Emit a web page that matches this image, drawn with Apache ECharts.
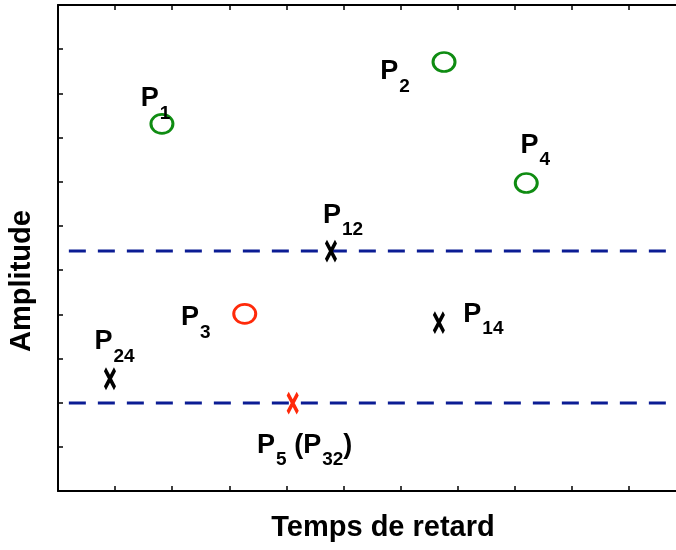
<!DOCTYPE html>
<html><head><meta charset="utf-8">
<script src="https://cdn.jsdelivr.net/npm/echarts@6/dist/echarts.min.js"></script>
<style>html,body{margin:0;padding:0;background:#fff}#c{width:676px;height:550px}</style>
</head><body><div id="c"></div>
<script>
// ---- data ----
const xTitle = 'Temps de retard';
const yTitle = 'Amplitude';
const xRange = [0, 11.4];
const yRange = [0, 11];
const tickStep = 1;
const circleGreenPts = [[1.82, 8.31], [6.76, 9.71], [8.20, 6.97]];
const circleGreenSubs = ['1', '2', '4'];
const circleRedPts = [[3.27, 4.01]];
const circleRedSubs = ['3'];
const crossBlackPts = [[4.78, 5.43], [0.91, 2.54], [6.67, 3.81]];
const crossBlackSubs = ['12', '24', '14'];
const crossRedPts = [[4.11, 1.99]];
const crossRedSubs = [['5', '32']];
const thresholds = [5.43, 1.99];
const thresholdSpan = [0.19, 10.65];

// ---- styles (label offsets in px) ----
const offGreen = [[-6.5, -25], [-49, 10], [9, -38]];
const offRed = [[-49, 4]];
const offBlack = [[12, -36], [4.5, -37], [44.5, -8.5]];
const offRedX = [[12, 42]];

const GREEN = '#0f8c12', RED = '#ff2a0a', NAVY = '#0b1c94';
const FONT = '"Liberation Sans", Arial, Helvetica, sans-serif';
const rich = {
  p: {fontSize: 27, fontWeight: 'bold', fontFamily: FONT, color: '#000', lineHeight: 27, verticalAlign: 'top'},
  s: {fontSize: 19, fontWeight: 'bold', fontFamily: FONT, color: '#000', lineHeight: 19, verticalAlign: 'top', padding: [19, 0, 0, 1]}
};
function simpleLabel(sub) { return '{p|P}{s|' + sub + '}'; }
function items(pts, subs, offs, fmt) {
  return pts.map((p, i) => ({
    value: p,
    label: {show: true, position: 'inside', offset: offs[i], formatter: fmt(subs[i]), rich: rich,
            color: '#000', fontWeight: 'bold', fontFamily: FONT, textBorderWidth: 0, textShadowBlur: 0, opacity: 1}
  }));
}
const crossPath = 'path://M0,0 L10,20 M10,0 L0,20';

const chart = echarts.init(document.getElementById('c'), null, {renderer: 'canvas'});
const axisCommon = {
  type: 'value', interval: tickStep,
  axisLine: {show: true, onZero: false, lineStyle: {color: '#000', width: 2}},
  axisTick: {show: true, inside: true, length: 5, lineStyle: {color: '#000', width: 1.5}},
  axisLabel: {show: false}, splitLine: {show: false}
};
chart.setOption({
  animation: false,
  backgroundColor: '#fff',
  grid: {left: 58, top: 5, bottom: 59, right: 676 - 58 - Math.round(57.1 * xRange[1]),
         containLabel: false, outerBoundsMode: 'none'},
  xAxis: [
    Object.assign({}, axisCommon, {min: xRange[0], max: xRange[1], position: 'bottom'}),
    Object.assign({}, axisCommon, {min: xRange[0], max: xRange[1], position: 'top'})
  ],
  yAxis: [Object.assign({}, axisCommon, {min: yRange[0], max: yRange[1], position: 'left'})],
  graphic: [
    {type: 'text', x: 383, y: 528, style: {text: xTitle, font: 'bold 29px ' + FONT, fill: '#000', align: 'center', verticalAlign: 'middle'}},
    {type: 'text', x: 22, y: 281, rotation: Math.PI / 2, style: {text: yTitle, font: 'bold 29px ' + FONT, fill: '#000', align: 'center', verticalAlign: 'middle'}}
  ],
  series: [
    ...thresholds.map(t => ({
      type: 'line', silent: true, symbol: 'none', z: 1,
      data: [[thresholdSpan[0], t], [thresholdSpan[1], t]],
      lineStyle: {color: NAVY, width: 3, type: [17, 12]}
    })),
    {type: 'scatter', z: 3, symbol: 'circle', symbolSize: [22, 19],
     itemStyle: {color: 'rgba(0,0,0,0)', borderColor: GREEN, borderWidth: 2.8, opacity: 1},
     data: items(circleGreenPts, circleGreenSubs, offGreen, simpleLabel)},
    {type: 'scatter', z: 3, symbol: 'circle', symbolSize: [22, 19],
     itemStyle: {color: 'rgba(0,0,0,0)', borderColor: RED, borderWidth: 2.8, opacity: 1},
     data: items(circleRedPts, circleRedSubs, offRed, simpleLabel)},
    {type: 'scatter', z: 3, symbol: crossPath, symbolSize: [10, 19],
     itemStyle: {color: 'rgba(0,0,0,0)', borderColor: '#000', borderWidth: 4, opacity: 1},
     data: items(crossBlackPts, crossBlackSubs, offBlack, simpleLabel)},
    {type: 'scatter', z: 3, symbol: crossPath, symbolSize: [10, 19],
     itemStyle: {color: 'rgba(0,0,0,0)', borderColor: RED, borderWidth: 4, opacity: 1},
     data: items(crossRedPts, crossRedSubs, offRedX, s => '{p|P}{s|' + s[0] + '}{p| (P}{s|' + s[1] + '}{p|)}')}
  ]
});
</script></body></html>
